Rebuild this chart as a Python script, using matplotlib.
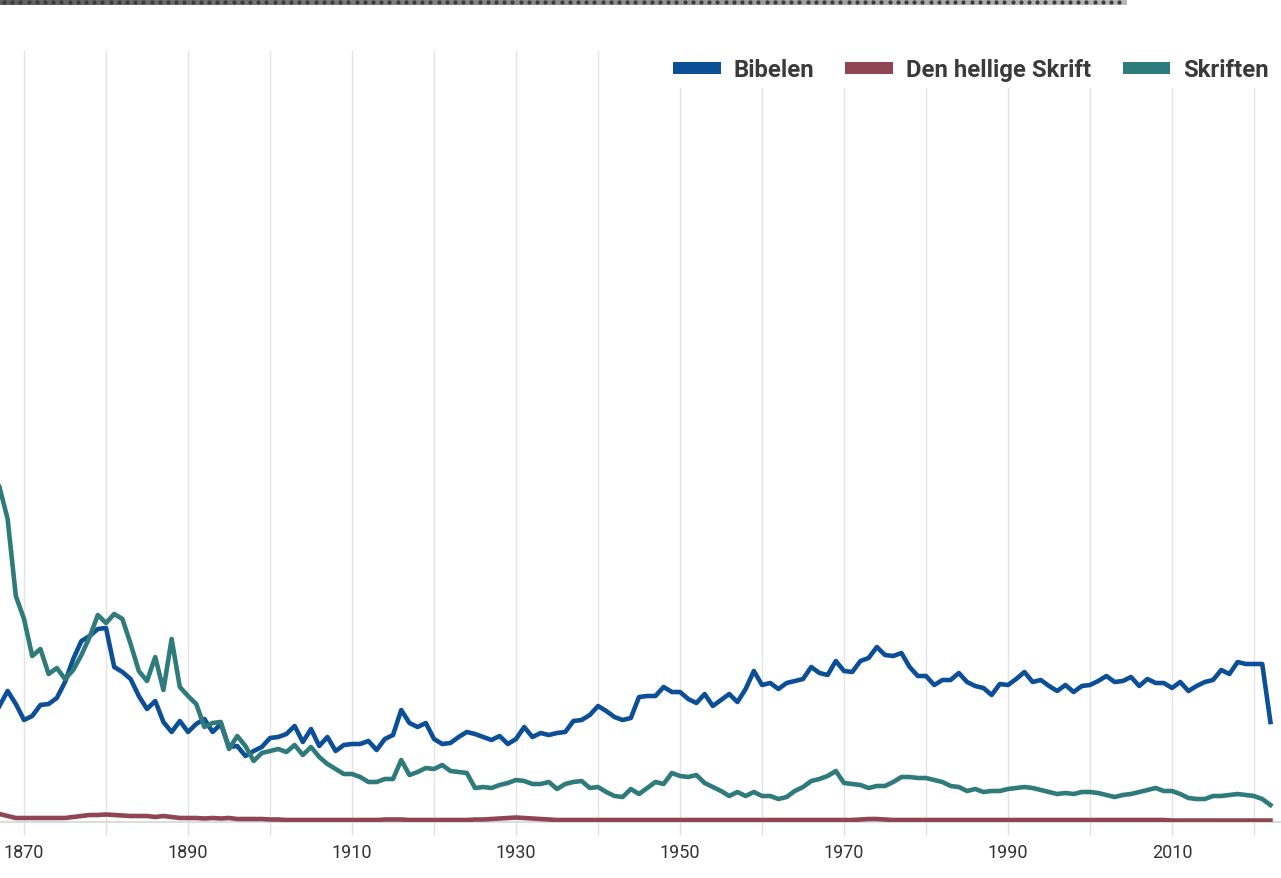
import numpy as np
import matplotlib.pyplot as plt
from matplotlib.patches import Patch

plt.rcParams['font.family'] = ['Roboto', 'DejaVu Sans']

# yearly values 1867-2022 (arbitrary relative frequency units)
years = list(range(1867, 2023))

bibelen = [
    116, 131, 118, 102, 106, 117, 118, 124, 140, 163,
    181, 186, 193, 194, 155, 150, 143, 126, 113, 121,
    100, 90, 101, 90, 98, 103, 90, 98, 75, 76,
    66, 71, 75, 84, 85, 88, 96, 80, 93, 76,
    85, 71, 77, 78, 78, 81, 72, 83, 87, 112,
    99, 95, 99, 83, 78, 79, 85, 90, 88, 85,
    82, 86, 78, 83, 95, 85, 89, 87, 89, 90,
    101, 102, 107, 116, 111, 105, 102, 104, 125, 126,
    126, 135, 130, 130, 123, 119, 128, 116, 122, 128,
    120, 133, 151, 137, 139, 133, 139, 141, 143, 155,
    149, 147, 161, 151, 150, 161, 164, 175, 167, 166,
    169, 155, 146, 146, 137, 142, 142, 149, 140, 136,
    134, 127, 138, 137, 143, 150, 140, 142, 136, 131,
    137, 130, 136, 137, 141, 146, 140, 141, 145, 136,
    143, 139, 139, 134, 140, 131, 136, 140, 142, 152,
    148, 160, 158, 158, 158, 100,
]

den_hellige_skrift = [
    8, 6, 4, 4, 4, 4, 4, 4, 4, 5,
    6, 7, 7, 7.5, 7, 6.5, 6, 6, 6, 5,
    6, 5, 4, 4, 4, 3.5, 4, 3.5, 4, 3,
    3, 3, 3, 2.5, 2.5, 2, 2, 2, 2, 2,
    2, 2, 2, 2, 2, 2, 2, 2.5, 2.5, 2.5,
    2, 2, 2, 2, 2, 2, 2, 2, 2.5, 2.5,
    3, 3.5, 4, 4.5, 4, 3.5, 3, 2.5, 2, 2,
    2, 2, 2, 2, 2, 2, 2, 2, 2, 2,
    2, 2, 2, 2, 2, 2, 2, 2, 2, 2,
    2, 2, 2, 2, 2, 2, 2, 2, 2, 2,
    2, 2, 2, 2, 2, 2.5, 3, 3, 2.5, 2,
    2, 2, 2, 2, 2, 2, 2, 2, 2, 2,
    2, 2, 2, 2, 2, 2, 2, 2, 2, 2,
    2, 2, 2, 2, 2, 2, 2, 2, 2, 2,
    2, 2, 2, 1.5, 1.5, 1.5, 1.5, 1.5, 1.5, 1.5,
    1.5, 1.5, 1.5, 1.5, 1.5, 1.5,
]

skriften = [
    335, 303, 226, 203, 166, 173, 148, 154, 143, 152,
    167, 185, 207, 199, 208, 203, 178, 151, 141, 165,
    132, 183, 135, 126, 118, 95, 99, 100, 73, 86,
    76, 61, 69, 71, 73, 70, 77, 67, 75, 65,
    58, 53, 48, 48, 45, 40, 40, 43, 43, 62,
    47, 50, 54, 53, 57, 51, 50, 49, 34, 35,
    34, 37, 39, 42, 41, 38, 38, 40, 33, 38,
    40, 41, 34, 35, 30, 26, 25, 33, 28, 34,
    40, 38, 49, 46, 45, 47, 39, 35, 31, 26,
    30, 26, 30, 26, 26, 23, 25, 31, 35, 41,
    43, 46, 51, 39, 38, 37, 34, 36, 36, 40,
    45, 45, 44, 44, 42, 40, 36, 35, 31, 33,
    30, 31, 31, 33, 34, 35, 34, 32, 30, 28,
    29, 28, 30, 30, 29, 27, 25, 27, 28, 30,
    32, 34, 31, 31, 28, 24, 23, 23, 26, 26,
    27, 28, 27, 26, 23, 17,
]

names = ['Bibelen', 'Den hellige Skrift', 'Skriften']
colors = ['#0d4f97', '#8f4652', '#2f7a7b']
grid_years = list(range(1870, 2021, 10))
label_years = list(range(1870, 2011, 20))

fig = plt.figure(figsize=(12.81, 8.79), dpi=100)
ax = fig.add_axes([0, 1 - 823 / 879, 1, (823 - 52) / 879])

for vals, name, col in zip([bibelen, den_hellige_skrift, skriften], names, colors):
    ax.plot(years, vals, color=col, lw=3.3, label=name, solid_joinstyle='round', zorder=3)

ax.set_xlim(1867.07, 2023.29)
ax.set_ylim(0, 771)
ax.set_yticks([])
ax.set_xticks(grid_years)
ax.set_xticklabels([str(y) if y in label_years else '' for y in grid_years])
ax.tick_params(axis='x', length=9, width=1, color='#e0e0e0', pad=6,
               labelsize=13, labelcolor='#333333')
ax.grid(axis='x', color='#e3e3e3', lw=1)
for s in ['top', 'left', 'right']:
    ax.spines[s].set_visible(False)
ax.spines['bottom'].set_color('#dcdcdc')
ax.spines['bottom'].set_linewidth(1.5)

handles = [Patch(facecolor=c, edgecolor='none') for c in colors]
leg = ax.legend(handles, names, ncol=3, loc='upper right', bbox_to_anchor=(1.0, 1.006),
                frameon=True, handlelength=2.0, handleheight=0.4,
                handletextpad=0.55, columnspacing=1.3, borderaxespad=0.2,
                borderpad=0.3, prop={'size': 17.2, 'weight': 'bold'})
leg.get_frame().set_facecolor('white')
leg.get_frame().set_edgecolor('none')
leg.get_frame().set_alpha(1)
for t in leg.get_texts():
    t.set_color('#3a3a3a')

# grey strip at the very top of the screenshot
bar = fig.add_axes([0, 1 - 6 / 879, 1127 / 1281, 6 / 879])
bar.imshow(np.linspace(0.38, 0.72, 200)[None, :], cmap='gray', vmin=0, vmax=1,
           aspect='auto', extent=(0, 1127, 0, 6))
dots_x = np.arange(4, 1127, 8.2)
bar.scatter(dots_x, np.full(len(dots_x), 3.0), s=9, color='#3c3c3c', marker='o', linewidths=0)
bar.set_xlim(0, 1127)
bar.set_ylim(0, 6)
bar.axis('off')

fig.savefig('out.png', dpi=100)
